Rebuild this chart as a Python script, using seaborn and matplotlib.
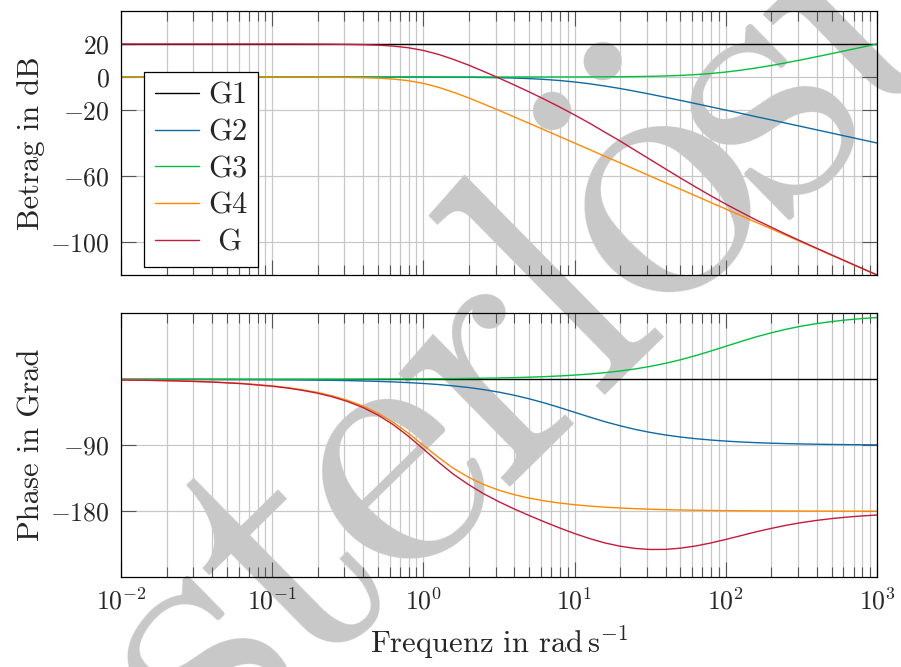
import numpy as np
import pandas as pd
import matplotlib
matplotlib.use("Agg")
import matplotlib.pyplot as plt
import seaborn as sns
from matplotlib.lines import Line2D
from matplotlib.ticker import FixedLocator, FixedFormatter, LogLocator, NullFormatter, NullLocator

# frequency grid in rad/s
freq = [0.01, 0.0158, 0.0251, 0.0398, 0.0631,
        0.1, 0.126, 0.158, 0.2, 0.251, 0.316, 0.398, 0.501, 0.631, 0.794,
        1.0, 1.26, 1.58, 2.0, 2.51, 3.16, 3.98, 5.01, 6.31, 7.94,
        10.0, 12.6, 15.8, 20.0, 25.1, 31.6, 39.8, 50.1, 63.1, 79.4,
        100.0, 126.0, 158.0, 200.0, 251.0, 316.0, 398.0, 501.0, 631.0, 794.0,
        1000.0]

# magnitude in dB
g1_mag = [20.0] * len(freq)
g2_mag = [0.00, 0.00, 0.00, 0.00, 0.00,
          0.00, 0.00, 0.00, 0.00, 0.00, 0.00, -0.01, -0.01, -0.02, -0.03,
          -0.04, -0.07, -0.11, -0.17, -0.27, -0.41, -0.64, -0.97, -1.46, -2.12,
          -3.01, -4.12, -5.46, -6.97, -8.64, -10.41, -12.27, -14.17, -16.11, -18.07,
          -20.04, -22.03, -24.02, -26.01, -28.01, -30.00, -32.00, -34.00, -36.00, -38.00,
          -40.00]
g3_mag = [0.00, 0.00, 0.00, 0.00, 0.00,
          0.00, 0.00, 0.00, 0.00, 0.00, 0.00, 0.00, 0.00, 0.00, 0.00,
          0.00, 0.00, 0.00, 0.00, 0.00, 0.00, 0.01, 0.01, 0.02, 0.03,
          0.04, 0.07, 0.11, 0.17, 0.27, 0.41, 0.64, 0.97, 1.46, 2.12,
          3.01, 4.12, 5.46, 6.97, 8.64, 10.41, 12.27, 14.17, 16.11, 18.07,
          20.04]
g4_mag = [0.00, 0.00, 0.00, 0.00, -0.01,
          -0.02, -0.03, -0.05, -0.08, -0.13, -0.23, -0.39, -0.69, -1.24, -2.23,
          -3.86, -6.23, -9.24, -12.69, -16.39, -20.23, -24.13, -28.08, -32.05, -36.03,
          -40.02, -44.01, -48.01, -52.00, -56.00, -60.00, -64.00, -68.00, -72.00, -76.00,
          -80.00, -84.00, -88.00, -92.00, -96.00, -100.00, -104.00, -108.00, -112.00, -116.00,
          -120.00]
g_mag = [20.00, 20.00, 20.00, 20.00, 19.99,
         19.98, 19.97, 19.95, 19.92, 19.86, 19.77, 19.60, 19.30, 18.74, 17.74,
         16.09, 13.70, 10.65, 7.14, 3.35, -0.64, -4.77, -9.04, -13.49, -18.13,
         -22.99, -28.07, -33.36, -38.81, -44.38, -50.00, -55.63, -61.20, -66.65, -71.94,
         -77.03, -81.90, -86.56, -91.04, -95.37, -99.59, -103.74, -107.83, -111.89, -115.93,
         -119.96]

# phase in degrees
g1_phase = [0.0] * len(freq)
g2_phase = [-0.06, -0.09, -0.14, -0.23, -0.36,
            -0.57, -0.72, -0.91, -1.14, -1.44, -1.81, -2.28, -2.87, -3.61, -4.54,
            -5.71, -7.18, -9.01, -11.28, -14.10, -17.55, -21.71, -26.62, -32.25, -38.46,
            -45.00, -51.54, -57.75, -63.38, -68.29, -72.45, -75.90, -78.72, -80.99, -82.82,
            -84.29, -85.46, -86.39, -87.13, -87.72, -88.19, -88.56, -88.86, -89.09, -89.28,
            -89.43]
g3_phase = [0.01, 0.01, 0.01, 0.02, 0.04,
            0.06, 0.07, 0.09, 0.11, 0.14, 0.18, 0.23, 0.29, 0.36, 0.46,
            0.57, 0.72, 0.91, 1.14, 1.44, 1.81, 2.28, 2.87, 3.61, 4.54,
            5.71, 7.18, 9.01, 11.28, 14.10, 17.55, 21.71, 26.62, 32.25, 38.46,
            45.00, 51.54, 57.75, 63.38, 68.29, 72.45, 75.90, 78.72, 80.99, 82.82,
            84.29]
g4_phase = [-0.89, -1.42, -2.25, -3.56, -5.64,
            -8.95, -11.29, -14.23, -17.96, -22.70, -28.73, -36.43, -46.24, -58.55, -73.42,
            -90.00, -106.58, -121.45, -133.76, -143.57, -151.27, -157.30, -162.04, -165.77, -168.71,
            -171.05, -172.89, -174.36, -175.52, -176.44, -177.17, -177.75, -178.22, -178.58, -178.88,
            -179.11, -179.29, -179.44, -179.55, -179.64, -179.72, -179.78, -179.82, -179.86, -179.89,
            -179.91]
g_phase = [-0.95, -1.50, -2.38, -3.76, -5.97,
           -9.47, -11.93, -15.05, -18.99, -23.99, -30.36, -38.48, -48.82, -61.80, -77.50,
           -95.14, -113.04, -129.54, -143.91, -156.23, -167.01, -176.73, -185.79, -194.41, -202.63,
           -210.34, -217.26, -223.10, -227.62, -230.63, -232.08, -231.95, -230.31, -227.33, -223.24,
           -218.40, -213.21, -208.08, -203.30, -199.07, -195.45, -192.44, -189.96, -187.96, -186.34,
           -185.05]

systems = ["G1", "G2", "G3", "G4", "G"]
legend_labels = ["G1", "G2", "G3", "G4", " G"]
colors = {"G1": "#000000", "G2": "#0e6aa3", "G3": "#00c040", "G4": "#ff8a00", "G": "#c41a3c"}

x_ticks = [1e-2, 1e-1, 1e0, 1e1, 1e2, 1e3]
x_tick_labels = [r"$10^{-2}$", r"$10^{-1}$", r"$10^{0}$", r"$10^{1}$", r"$10^{2}$", r"$10^{3}$"]
mag_ticks = [20, 0, -20, -60, -100]
mag_tick_labels = [r"$20$", r"$0$", r"$-20$", r"$-60$", r"$-100$"]
phase_ticks = [-90, -180]
phase_tick_labels = [r"$-90$", r"$-180$"]

# watermark "Musterlösung", set letter by letter
wm_letters = ["M", "u", "s", "t", "e", "r", "l", r"$\ddot{\mathrm{o}}$", "s", "u", "n", "g"]
wm_widths = [0.917, 0.556, 0.394, 0.389, 0.444, 0.392, 0.278, 0.5, 0.394, 0.556, 0.556, 0.5]

mags = {"G1": g1_mag, "G2": g2_mag, "G3": g3_mag, "G4": g4_mag, "G": g_mag}
phases = {"G1": g1_phase, "G2": g2_phase, "G3": g3_phase, "G4": g4_phase, "G": g_phase}
df = pd.concat([pd.DataFrame({"freq": freq, "mag": mags[s], "phase": phases[s], "system": s})
                for s in systems], ignore_index=True)

sns.set_style("ticks")
plt.rcParams["font.family"] = ["cmr10", "DejaVu Serif"]
plt.rcParams["mathtext.fontset"] = "cm"
plt.rcParams["axes.formatter.use_mathtext"] = True

W, H = 901, 667
fig = plt.figure(figsize=(W / 100, H / 100), dpi=100)
fig.patch.set_facecolor("white")

# watermark behind the axes: baseline through the "e", tilted 44.5 deg
wm_size = 265                      # pt
wm_step = 368 * 0.894              # px per em of advance
ang = np.deg2rad(44.5)
centers = np.cumsum(wm_widths) - np.array(wm_widths) / 2
centers = (centers - centers[4]) * wm_step
ex, ey = 453.4, H - 533.3
for ch, c in zip(wm_letters, centers):
    px = ex + c * np.cos(ang)
    py = ey + c * np.sin(ang)
    fig.text(px / W, py / H, ch, fontsize=wm_size, color="#c8c8c8", rotation=44.5,
             rotation_mode="anchor", ha="center", va="baseline", zorder=-1)

ax1 = fig.add_axes([0.1343, 0.5877, 0.8391, 0.3958])
ax2 = fig.add_axes([0.1343, 0.1345, 0.8391, 0.3958])

sns.lineplot(data=df, x="freq", y="mag", hue="system", hue_order=systems, palette=colors,
             linewidth=1.0, legend=False, errorbar=None, ax=ax1)
sns.lineplot(data=df, x="freq", y="phase", hue="system", hue_order=systems, palette=colors,
             linewidth=1.0, legend=False, errorbar=None, ax=ax2)

for ax in (ax1, ax2):
    ax.set_facecolor("none")
    ax.set_xscale("log")
    ax.set_xlim(1e-2, 1e3)
    ax.xaxis.set_major_locator(FixedLocator(x_ticks))
    ax.xaxis.set_minor_locator(LogLocator(base=10, subs=[2, 3, 4, 5, 6, 7, 8, 9], numticks=20))
    ax.xaxis.set_minor_formatter(NullFormatter())
    ax.yaxis.set_minor_locator(NullLocator())
    ax.grid(which="both", color="#c8c8c8", linewidth=0.9)
    ax.tick_params(which="both", direction="in", top=True, right=True, color="#555555",
                   width=0.8, labelsize=18.5, pad=8)
    ax.tick_params(which="major", length=11)
    ax.tick_params(which="minor", length=7)
    for sp in ax.spines.values():
        sp.set_color("black")
        sp.set_linewidth(0.9)

ax1.set_ylim(-120, 40)
ax1.yaxis.set_major_locator(FixedLocator(mag_ticks))
ax1.yaxis.set_major_formatter(FixedFormatter(mag_tick_labels))
ax1.xaxis.set_major_formatter(NullFormatter())
ax1.set_xlabel("")
ax1.set_ylabel("Betrag in dB", fontsize=22)
ax1.yaxis.set_label_coords(-0.10, 0.5)

ax2.set_ylim(-270, 90)
ax2.yaxis.set_major_locator(FixedLocator(phase_ticks))
ax2.yaxis.set_major_formatter(FixedFormatter(phase_tick_labels))
ax2.xaxis.set_major_formatter(FixedFormatter(x_tick_labels))
ax2.set_xlabel(r"Frequenz in $\mathrm{rad\,s^{-1}}$", fontsize=22, labelpad=7)
ax2.set_ylabel("Phase in Grad", fontsize=22)
ax2.yaxis.set_label_coords(-0.10, 0.5)

handles = [Line2D([], [], color=colors[s], linewidth=1.0) for s in systems]
leg = ax1.legend(handles, legend_labels, loc="lower left", bbox_to_anchor=(0.0304, 0.0304),
                 borderaxespad=0, fontsize=22, frameon=True, fancybox=False, framealpha=1,
                 edgecolor="black", handlelength=1.45, handletextpad=0.3, labelspacing=0.30,
                 borderpad=0.35)
leg.get_frame().set_linewidth(0.9)

fig.savefig("out.png", dpi=100)
